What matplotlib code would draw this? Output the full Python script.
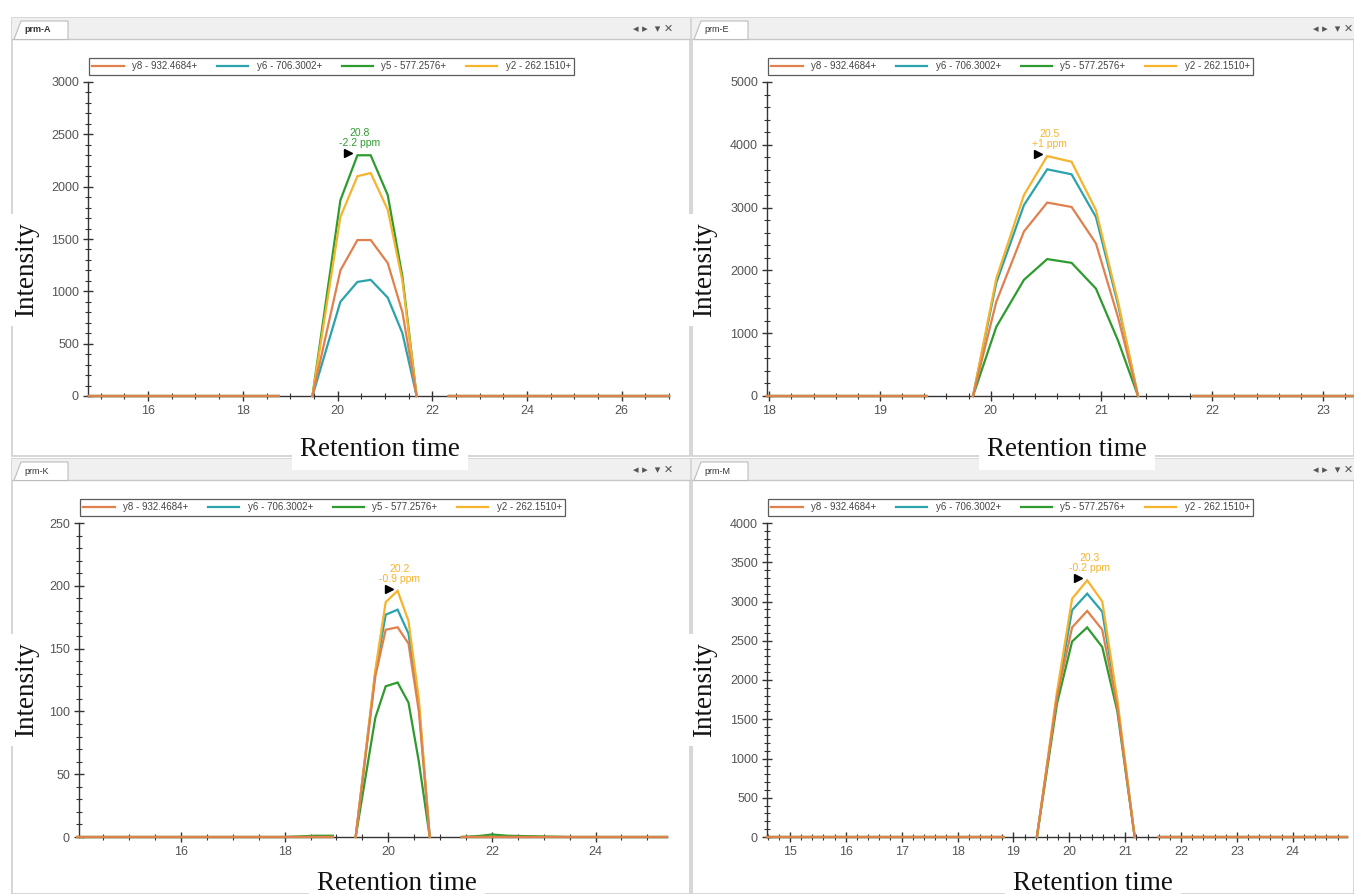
import numpy as np
import matplotlib
matplotlib.use('Agg')
import matplotlib.pyplot as plt
from matplotlib.patches import Rectangle, Polygon
from matplotlib.transforms import offset_copy
from matplotlib.ticker import MultipleLocator

nan = np.nan
W, H = 1354, 894

ions = ['y8 - 932.4684+', 'y6 - 706.3002+', 'y5 - 577.2576+', 'y2 - 262.1510+']
ion_colors = ['#E0804F', '#2BA3AC', '#2E9B2E', '#F6B42C']

# prm-A
a_rt = [14.75, 16.0, 17.5, 18.76, nan, 19.47, 20.06, 20.42, 20.70, 21.06, 21.37, 21.67, nan, 22.35, 24.0, 25.5, 27.0]
a_y8 = [0, 0, 0, 0, nan, 0, 1200, 1490, 1490, 1270, 800, 0, nan, 0, 0, 0, 0]
a_y6 = [0, 0, 0, 0, nan, 0, 900, 1090, 1110, 940, 600, 0, nan, 0, 0, 0, 0]
a_y5 = [0, 0, 0, 0, nan, 0, 1870, 2300, 2300, 1920, 1140, 0, nan, 0, 0, 0, 0]
a_y2 = [0, 0, 0, 0, nan, 0, 1710, 2100, 2130, 1780, 1100, 0, nan, 0, 0, 0, 0]

# prm-E
e_rt = [17.98, 18.5, 19.0, 19.42, nan, 19.84, 20.05, 20.30, 20.51, 20.73, 20.95, 21.15, 21.33, nan, 21.83, 22.5, 23.3]
e_y8 = [0, 0, 0, 0, nan, 0, 1500, 2620, 3080, 3010, 2430, 1250, 0, nan, 0, 0, 0]
e_y6 = [0, 0, 0, 0, nan, 0, 1800, 3040, 3610, 3530, 2850, 1450, 0, nan, 0, 0, 0]
e_y5 = [0, 0, 0, 0, nan, 0, 1100, 1850, 2180, 2120, 1710, 880, 0, nan, 0, 0, 0]
e_y2 = [0, 0, 0, 0, nan, 0, 1870, 3200, 3820, 3730, 2960, 1500, 0, nan, 0, 0, 0]

# prm-K
k_rt = [14.0, 16.0, 18.0, 18.3, 18.6, 18.93, nan, 19.37, 19.75, 19.95, 20.18, 20.39, 20.59, 20.80, nan, 21.42, 21.8, 22.0, 22.3, 23.5, 25.38]
k_y8 = [0, 0, 0, 0, 0, 0, nan, 0, 128, 165, 167, 154, 100, 0, nan, 0, 0, 0, 0, 0, 0]
k_y6 = [0, 0, 0, 0, 0, 0, nan, 0, 131, 177, 181, 162, 105, 0, nan, 0, 0, 0, 0, 0, 0]
k_y5 = [0, 0, 0, 0.5, 1, 1, nan, 0, 95, 120, 123, 107, 60, 0, nan, 0, 1, 2, 1, 0, 0]
k_y2 = [0, 0, 0, 0, 0, 0, nan, 0, 133, 187, 196, 172, 110, 0, nan, 0, 0, 0, 0, 0, 0]

# prm-M
m_rt = [14.59, 16.0, 17.5, 18.82, nan, 19.42, 19.78, 20.05, 20.32, 20.59, 20.86, 21.17, nan, 21.6, 23.0, 24.97]
m_y8 = [0, 0, 0, 0, nan, 0, 1780, 2670, 2880, 2640, 1650, 0, nan, 0, 0, 0]
m_y6 = [0, 0, 0, 0, nan, 0, 1800, 2890, 3100, 2870, 1700, 0, nan, 0, 0, 0]
m_y5 = [0, 0, 0, 0, nan, 0, 1700, 2490, 2670, 2420, 1600, 0, nan, 0, 0, 0]
m_y2 = [0, 0, 0, 0, nan, 0, 1850, 3035, 3270, 3000, 1750, 0, nan, 0, 0, 0]

peak_labels = ['20.8\n-2.2 ppm', '20.5\n+1 ppm', '20.2\n-0.9 ppm', '20.3\n-0.2 ppm']
peak_ion = [2, 3, 3, 3]

panels = [
    # name, rt, series, frame box (px), axes box (px), xlim, ylim, x major/minor, y major/minor
    ('prm-A', a_rt, [a_y8, a_y6, a_y5, a_y2], (12, 18, 690, 456), (88, 82, 669, 396), (14.73, 27.0), (0, 3000), (2, 0.5), (500, 100)),
    ('prm-E', e_rt, [e_y8, e_y6, e_y5, e_y2], (692, 18, 1354, 456), (767, 82, 1354, 396), (17.98, 23.28), (0, 5000), (1, 0.2), (1000, 200)),
    ('prm-K', k_rt, [k_y8, k_y6, k_y5, k_y2], (12, 459, 690, 894), (79, 523, 667, 837), (14.03, 25.38), (0, 250), (2, 0.5), (50, 10)),
    ('prm-M', m_rt, [m_y8, m_y6, m_y5, m_y2], (692, 459, 1354, 894), (767, 523, 1347, 837), (14.59, 24.97), (0, 4000), (1, 0.2), (500, 100)),
]

sans = ['Liberation Sans', 'DejaVu Sans']
serif = ['Liberation Serif', 'DejaVu Serif']

fig = plt.figure(figsize=(W / 100, H / 100), dpi=100)
fig.patch.set_facecolor('white')

# window chrome drawn in pixel coordinates
bg = fig.add_axes([0, 0, 1, 1], zorder=0)
bg.set_xlim(0, W)
bg.set_ylim(H, 0)
bg.axis('off')

for i, (name, rt, series, frame, box, xlim, ylim, xt, yt) in enumerate(panels):
    x0, y0, x1, y1 = frame
    bg.add_patch(Rectangle((x0, y0), x1 - x0, y1 - y0, facecolor='white', edgecolor='#CFCFCF', lw=1.2, zorder=1))
    bg.add_patch(Rectangle((x0, y0), x1 - x0, 21, facecolor='#F0F0F0', edgecolor='none', zorder=2))
    bg.plot([x0, x1], [y0 + 21, y0 + 21], color='#C8C8C8', lw=1, zorder=3)
    bg.add_patch(Polygon([(x0 + 2, y0 + 21.5), (x0 + 9, y0 + 3), (x0 + 56, y0 + 3), (x0 + 56, y0 + 21.5)],
                         closed=True, facecolor='white', edgecolor='#BDBDBD', lw=0.8, zorder=4))
    bg.text(x0 + 12, y0 + 12, name, fontsize=6.5, color='#333333', va='center', ha='left',
            fontweight='bold' if i == 0 else 'normal', family=sans, zorder=5)
    bg.text(x0 + 621, y0 + 11, '\u25c2 \u25b8  \u25be \u2715', fontsize=8, color='#555555',
            va='center', ha='left', family='DejaVu Sans', zorder=5)

    bx0, by0, bx1, by1 = box
    ax = fig.add_axes([bx0 / W, 1 - by1 / H, (bx1 - bx0) / W, (by1 - by0) / H], zorder=2)
    ax.set_facecolor('none')
    for j, (vals, color, label) in enumerate(zip(series, ion_colors, ions)):
        ax.plot(rt, vals, color=color, lw=1.6, label=label, clip_on=False,
                solid_joinstyle='miter', zorder=6 - j if j == 0 else 2 + j)
    ax.set_xlim(*xlim)
    ax.set_ylim(*ylim)
    for s in ('top', 'right'):
        ax.spines[s].set_visible(False)
    for s in ('left', 'bottom'):
        ax.spines[s].set_color('#333333')
        ax.spines[s].set_linewidth(1)
    ax.xaxis.set_major_locator(MultipleLocator(xt[0]))
    ax.xaxis.set_minor_locator(MultipleLocator(xt[1]))
    ax.yaxis.set_major_locator(MultipleLocator(yt[0]))
    ax.yaxis.set_minor_locator(MultipleLocator(yt[1]))
    ax.tick_params(which='major', direction='inout', length=7, width=1, color='#333333',
                   labelsize=9, labelcolor='#555555', pad=3)
    ax.tick_params(which='minor', direction='inout', length=4, width=0.8, color='#333333')
    for lab in ax.get_xticklabels() + ax.get_yticklabels():
        lab.set_family(sans)

    leg = ax.legend(ncol=4, loc='upper left', bbox_to_anchor=((bx0 + 1) / W, 1 - 58 / H if i < 2 else 1 - 499 / H),
                    bbox_transform=fig.transFigure, handlelength=3.2, columnspacing=2.0,
                    handletextpad=0.9, borderpad=0.35, frameon=True, fancybox=False, borderaxespad=0,
                    prop={'family': sans, 'size': 7})
    leg.get_frame().set_edgecolor('#333333')
    leg.get_frame().set_linewidth(0.9)
    for t in leg.get_texts():
        t.set_color('#444444')

    # apex marker and label
    top = np.array(series[peak_ion[i]], dtype=float)
    k = int(np.nanargmax(top))
    px, py = rt[k], top[k]
    col = ion_colors[peak_ion[i]]
    ax.plot([px], [py], marker='>', color='black', markersize=6, clip_on=False, zorder=8,
            transform=offset_copy(ax.transData, fig=fig, x=-9, y=2, units='dots'))
    ax.annotate(peak_labels[i], xy=(px, py), xytext=(2, 7), textcoords='offset pixels',
                ha='center', va='bottom', fontsize=7.5, color=col, family=sans, linespacing=1.0)

# axis titles with white boxes over the chrome
box_kw = dict(facecolor='white', edgecolor='none', pad=6)
for (x, y) in [(27, 270), (705, 270), (27, 690), (705, 690)]:
    bg.text(x, y, 'Intensity', rotation=90, fontsize=19.5, family=serif, color='#111111',
            ha='center', va='center', bbox=box_kw, zorder=10)
for (x, y) in [(380, 449), (1067, 449), (397, 883), (1093, 883)]:
    bg.text(x, y, 'Retention time', fontsize=19.5, family=serif, color='#111111',
            ha='center', va='center', bbox=box_kw, zorder=10)

fig.savefig('out.png', dpi=100)
